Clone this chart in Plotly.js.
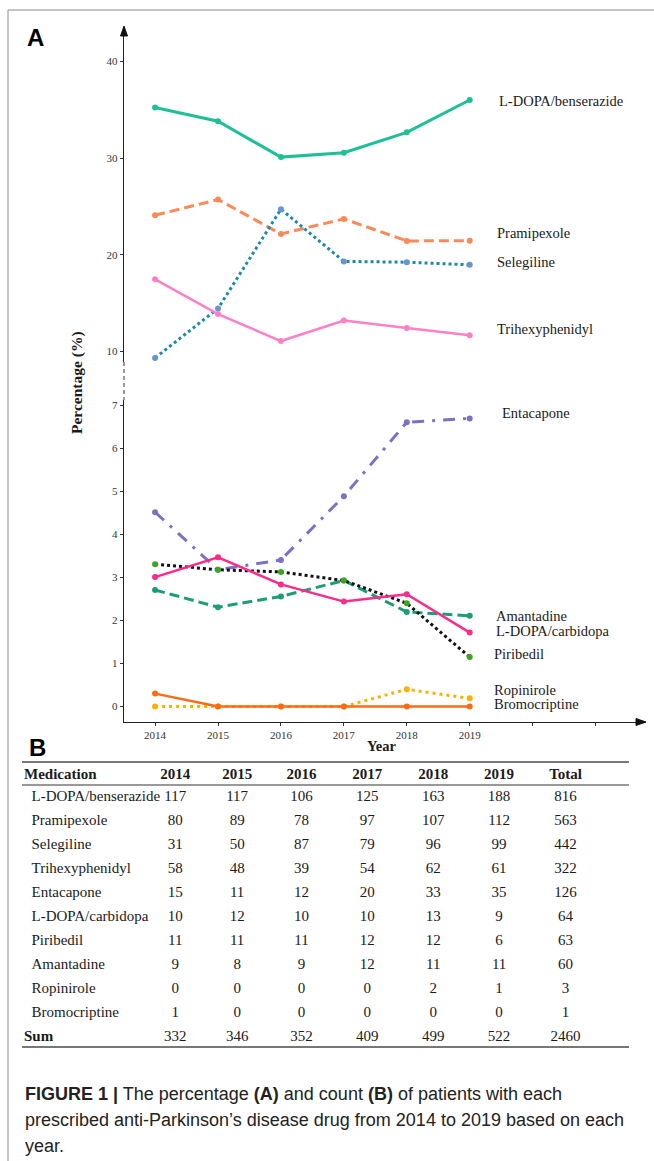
<!DOCTYPE html>
<html>
<head>
<meta charset="utf-8">
<script src="https://cdn.plot.ly/plotly-3.0.1.min.js"></script>
<style>
  html, body { margin: 0; padding: 0; background: #fff; }
  #chart { width: 654px; height: 1161px; }
</style>
</head>
<body>
<div id="chart"></div>
<script>
// ---- Data: share of patients (%) per drug and year ----
const years = [2014, 2015, 2016, 2017, 2018, 2019];

const pctBenserazide   = [35.24, 33.82, 30.11, 30.56, 32.67, 36.02];
const pctPramipexole   = [24.10, 25.72, 22.16, 23.72, 21.44, 21.46];
const pctSelegiline    = [9.34, 14.45, 24.72, 19.32, 19.24, 18.97];
const pctTrihex        = [17.47, 13.87, 11.08, 13.20, 12.42, 11.69];
const pctEntacapone    = [4.52, 3.18, 3.41, 4.89, 6.61, 6.70];
const pctCarbidopa     = [3.01, 3.47, 2.84, 2.44, 2.61, 1.72];
const pctPiribedil     = [3.31, 3.18, 3.13, 2.93, 2.40, 1.15];
const pctAmantadine    = [2.71, 2.31, 2.56, 2.93, 2.20, 2.11];
const pctRopinirole    = [0, 0, 0, 0, 0.40, 0.19];
const pctBromocriptine = [0.30, 0, 0, 0, 0, 0];

// ---- Data: patient counts table ----
const tableHeader = ['Medication', '2014', '2015', '2016', '2017', '2018', '2019', 'Total'];
const medications = ['L-DOPA/benserazide', 'Pramipexole', 'Selegiline', 'Trihexyphenidyl',
  'Entacapone', 'L-DOPA/carbidopa', 'Piribedil', 'Amantadine', 'Ropinirole', 'Bromocriptine'];
const count2014 = [117, 80, 31, 58, 15, 10, 11, 9, 0, 1];
const count2015 = [117, 89, 50, 48, 11, 12, 11, 8, 0, 0];
const count2016 = [106, 78, 87, 39, 12, 10, 11, 9, 0, 0];
const count2017 = [125, 97, 79, 54, 20, 10, 12, 12, 0, 0];
const count2018 = [163, 107, 96, 62, 33, 13, 12, 11, 2, 0];
const count2019 = [188, 112, 99, 61, 35, 9, 6, 11, 1, 0];
const countTotal = [816, 563, 442, 322, 126, 64, 63, 60, 3, 1];
const sumRow = [332, 346, 352, 409, 499, 522, 2460];

// ---- Page geometry helpers (pixel -> paper) ----
const W = 654, H = 1161;
const px = x => x / W;
const py = y => 1 - y / H;
const pathFrom = pts => 'M' + pts.map(p => px(p[0]) + ',' + py(p[1])).join(' L') + ' Z';

const SERIF = 'Liberation Serif, Times New Roman, serif';
const SANS = 'Liberation Sans, Arial, sans-serif';

function line(name, y, axis, color, dash, width, markerColor) {
  return {
    type: 'scatter', mode: 'lines+markers', name: name,
    x: years, y: y, xaxis: 'x', yaxis: axis,
    line: { color: color, dash: dash, width: width },
    marker: { color: markerColor || color, size: 6 },
    cliponaxis: false, hoverinfo: 'x+y+name'
  };
}

const traces = [
  // upper panel (10 - 40 %)
  line('L-DOPA/benserazide', pctBenserazide, 'y2', '#1cc094', 'solid', 3),
  line('Pramipexole', pctPramipexole, 'y2', '#fb8a58', '10px,5px', 3),
  line('Selegiline', pctSelegiline, 'y2', '#1c8aa6', '3px,3px', 3, '#6b93d2'),
  line('Trihexyphenidyl', pctTrihex, 'y2', '#ff80c6', 'solid', 2.5),
  // lower panel (0 - 7 %)
  line('Entacapone', pctEntacapone, 'y', '#7a72c4', '12px,8px,3px,8px', 3),
  line('Amantadine', pctAmantadine, 'y', '#1a9e78', '10px,5px', 3),
  line('Piribedil', pctPiribedil, 'y', '#111111', '3px,3px', 3, '#3aa81e'),
  line('L-DOPA/carbidopa', pctCarbidopa, 'y', '#ff2a8a', 'solid', 2.5),
  line('Ropinirole', pctRopinirole, 'y', '#ffb000', '3px,4px', 3),
  line('Bromocriptine', pctBromocriptine, 'y', '#ff6a14', 'solid', 2.5)
];

// ---- Count table: a name column and the numeric columns ----
const TABLE_TOP = 759.5;
const TABLE_BOTTOM = 1052;
const clearLine = { color: 'rgba(0,0,0,0)', width: 0 };
const clearFill = { color: 'rgba(0,0,0,0)' };
const nb = '\u00a0\u00a0';

// bold only on the last (Sum) row
const rowWeights = medications.map(() => 'normal').concat(['bold']);

const nameCol = medications.map(m => nb + m).concat(['Sum']);
const numCol = (arr, i) => arr.map(String).concat([String(sumRow[i])]);

traces.push({
  type: 'table',
  domain: { x: [px(16), px(260)], y: [py(TABLE_BOTTOM), py(TABLE_TOP)] },
  header: {
    values: [tableHeader[0]], align: 'left', height: 22.5,
    line: clearLine, fill: clearFill,
    font: { family: SERIF, size: 15, color: '#1a1a1a', weight: 'bold' }
  },
  cells: {
    values: [nameCol], align: 'left', height: 24,
    line: clearLine, fill: clearFill,
    font: { family: SERIF, size: 15, color: '#1a1a1a', weight: [rowWeights] }
  }
});
traces.push({
  type: 'table',
  domain: { x: [px(145), px(599.5)], y: [py(TABLE_BOTTOM), py(TABLE_TOP)] },
  columnwidth: [60.5, 63.5, 65.5, 66, 66, 66, 67],
  header: {
    values: tableHeader.slice(1), align: 'center', height: 22.5,
    line: clearLine, fill: clearFill,
    font: { family: SERIF, size: 15, color: '#1a1a1a', weight: 'bold' }
  },
  cells: {
    values: [numCol(count2014, 0), numCol(count2015, 1), numCol(count2016, 2), numCol(count2017, 3),
             numCol(count2018, 4), numCol(count2019, 5), numCol(countTotal, 6)],
    align: 'center', height: 24,
    line: clearLine, fill: clearFill,
    font: { family: SERIF, size: 15, color: '#1a1a1a' }
  }
});

// ---- Series labels at the right of the lines ----
const seriesLabels = [
  ['L-DOPA/benserazide', 497, 101],
  ['Pramipexole', 495, 233],
  ['Selegiline', 495, 262],
  ['Trihexyphenidyl', 495, 329],
  ['Entacapone', 500, 413],
  ['Amantadine', 494, 616],
  ['L-DOPA/carbidopa', 494, 631],
  ['Piribedil', 492, 654],
  ['Ropinirole', 492, 690],
  ['Bromocriptine', 492, 704]
];

const annotations = seriesLabels.map(l => ({
  text: l[0], xref: 'paper', yref: 'paper', x: px(l[1]), y: py(l[2]),
  xanchor: 'left', yanchor: 'middle', showarrow: false,
  font: { family: SERIF, size: 14.5, color: '#1a1a1a' }
}));

annotations.push(
  { text: '<b>Percentage (%)</b>', xref: 'paper', yref: 'paper', x: px(77), y: py(383),
    textangle: -90, showarrow: false, xanchor: 'center', yanchor: 'middle',
    font: { family: SERIF, size: 15.5, color: '#1a1a1a' } },
  { text: '<b>Year</b>', xref: 'paper', yref: 'paper', x: px(382), y: py(746),
    showarrow: false, xanchor: 'center', yanchor: 'middle',
    font: { family: SERIF, size: 14.5, color: '#1a1a1a' } },
  { text: '<b>A</b>', xref: 'paper', yref: 'paper', x: px(25), y: py(38),
    showarrow: false, xanchor: 'left', yanchor: 'middle',
    font: { family: SANS, size: 24, color: '#000' } },
  { text: '<b>B</b>', xref: 'paper', yref: 'paper', x: px(27), y: py(747),
    showarrow: false, xanchor: 'left', yanchor: 'middle',
    font: { family: SANS, size: 24, color: '#000' } }
);

// caption, one annotation per line
const captionLines = [
  ['<b>FIGURE 1 |</b> The percentage <b>(A)</b> and count <b>(B)</b> of patients with each', 1094],
  ['prescribed anti-Parkinson\u2019s disease drug from 2014 to 2019 based on each', 1120],
  ['year.', 1146]
];
captionLines.forEach(c => annotations.push({
  text: c[0], xref: 'paper', yref: 'paper', x: px(23), y: py(c[1]),
  showarrow: false, xanchor: 'left', yanchor: 'middle', align: 'left',
  font: { family: SANS, size: 18, color: '#222' }
}));

// ---- Frame, axis break and arrow heads ----
const shapes = [
  { type: 'line', xref: 'paper', yref: 'paper', x0: px(8), x1: px(8), y0: py(10), y1: py(1161),
    line: { color: '#8a8a8a', width: 1 } },
  { type: 'line', xref: 'paper', yref: 'paper', x0: px(8), x1: px(654), y0: py(10), y1: py(10),
    line: { color: '#8a8a8a', width: 1 } },
  { type: 'line', xref: 'paper', yref: 'paper', x0: px(124), x1: px(124), y0: py(362), y1: py(400),
    line: { color: '#333', width: 1, dash: '4px,3px' } },
  { type: 'path', xref: 'paper', yref: 'paper', path: pathFrom([[120.5, 36], [124, 26], [127.5, 36]]),
    fillcolor: '#111', line: { color: '#111', width: 1 } },
  { type: 'path', xref: 'paper', yref: 'paper', path: pathFrom([[636, 718.5], [646, 722], [636, 725.5]]),
    fillcolor: '#111', line: { color: '#111', width: 1 } },
  // table rules
  { type: 'line', xref: 'paper', yref: 'paper', x0: px(22), x1: px(629), y0: py(762), y1: py(762),
    line: { color: '#777', width: 2 } },
  { type: 'line', xref: 'paper', yref: 'paper', x0: px(22), x1: px(629), y0: py(785), y1: py(785),
    line: { color: '#777', width: 1.5 } },
  { type: 'line', xref: 'paper', yref: 'paper', x0: px(22), x1: px(629), y0: py(1047), y1: py(1047),
    line: { color: '#777', width: 2 } }
];

const tickFont = { family: SERIF, size: 11, color: '#333' };

const layout = {
  width: W, height: H,
  margin: { l: 0, r: 0, t: 0, b: 0 },
  paper_bgcolor: '#fff', plot_bgcolor: 'rgba(0,0,0,0)',
  showlegend: false,
  xaxis: {
    domain: [px(124), px(644)], range: [2013.506, 2021.77],
    tickvals: [2014, 2015, 2016, 2017, 2018, 2019, 2020, 2021],
    ticktext: ['2014', '2015', '2016', '2017', '2018', '2019', '', ''],
    ticks: 'outside', ticklen: 3, tickcolor: '#333', tickfont: tickFont,
    showline: true, linecolor: '#222', linewidth: 1.2,
    showgrid: false, zeroline: false, anchor: 'y'
  },
  yaxis: {
    domain: [py(722), py(400)], range: [-0.36, 7.128],
    tickvals: [0, 1, 2, 3, 4, 5, 6, 7],
    ticks: 'outside', ticklen: 3, tickcolor: '#333', tickfont: tickFont,
    showline: true, linecolor: '#222', linewidth: 1.2,
    showgrid: false, zeroline: false, anchor: 'x'
  },
  yaxis2: {
    domain: [py(362), py(30)], range: [8.914, 43.26],
    tickvals: [10, 20, 30, 40],
    ticks: 'outside', ticklen: 3, tickcolor: '#333', tickfont: tickFont,
    showline: true, linecolor: '#222', linewidth: 1.2,
    showgrid: false, zeroline: false, anchor: 'x'
  },
  annotations: annotations,
  shapes: shapes
};

Plotly.newPlot('chart', traces, layout, { displayModeBar: false, staticPlot: true });
</script>
</body>
</html>
